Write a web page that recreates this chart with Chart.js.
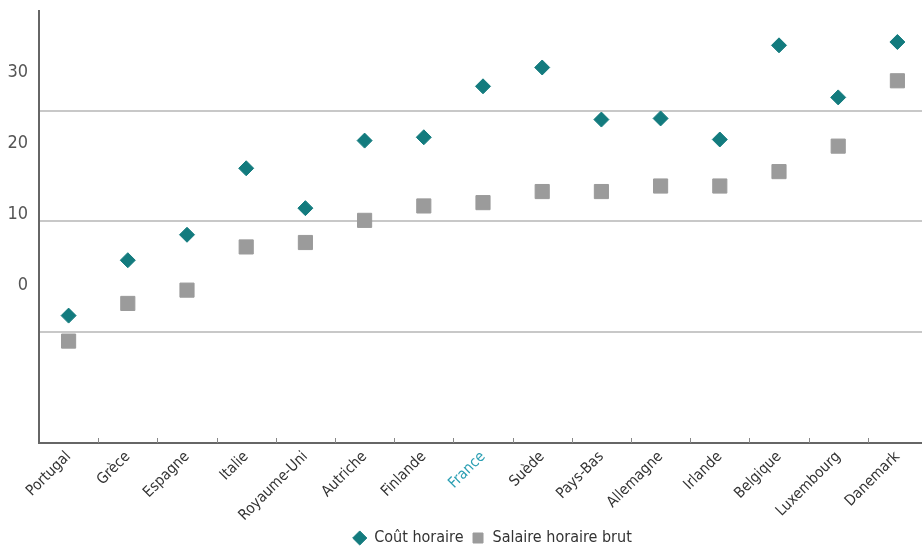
<!DOCTYPE html>
<html>
<head>
<meta charset="utf-8">
<script src="https://cdn.jsdelivr.net/npm/chart.js@4.4.1/dist/chart.umd.min.js"></script>
<style>
  html, body { margin: 0; padding: 0; background: #fff; overflow: hidden; }
  #wrap { position: relative; width: 985px; height: 556px; }
</style>
</head>
<body>
<div id="wrap"><canvas id="chart"></canvas></div>
<script>
  // donnees (euros par heure)
  const pays = ["Portugal", "Grèce", "Espagne", "Italie", "Royaume-Uni", "Autriche", "Finlande",
    "France", "Suède", "Pays-Bas", "Allemagne", "Irlande", "Belgique", "Luxembourg", "Danemark"];
  const coutHoraire = [11.5, 16.5, 18.8, 24.8, 21.2, 27.3, 27.6, 32.2, 33.9, 29.2, 29.3, 27.4, 35.9, 31.2, 36.2];
  const salaireBrut = [9.2, 12.6, 13.8, 17.7, 18.1, 20.1, 21.4, 21.7, 22.7, 22.7, 23.2, 23.2, 24.5, 26.8, 32.7];
  const etiquettesY = [0, 10, 20, 30];
  const lignesY = [10, 20, 30];

  const police = '"Liberation Sans Narrow", "DejaVu Sans Condensed", "Roboto Condensed", sans-serif';
  const teal = "#137b7e";
  const basGraphique = 443;

  // petits traits entre les categories, au-dessus de l'axe
  const petitsTraits = {
    id: "petitsTraits",
    beforeDatasetsDraw(chart) {
      const x = chart.scales.x;
      const bas = chart.chartArea.bottom;
      const ctx = chart.ctx;
      ctx.save();
      ctx.strokeStyle = "#888";
      ctx.lineWidth = 1;
      for (let i = 0; i < pays.length - 1; i++) {
        const px = Math.round((x.getPixelForValue(i) + x.getPixelForValue(i + 1)) / 2) + 0.5;
        ctx.beginPath();
        ctx.moveTo(px, bas - 5);
        ctx.lineTo(px, bas);
        ctx.stroke();
      }
      ctx.restore();
    }
  };

  new Chart(document.getElementById("chart"), {
    type: "line",
    data: {
      labels: pays,
      datasets: [
        {
          label: "Coût horaire",
          data: coutHoraire,
          showLine: false,
          pointStyle: "rectRot",
          pointRadius: 7.5,
          backgroundColor: teal,
          borderColor: teal,
          borderWidth: 1,
          yAxisID: "y"
        },
        {
          label: "Salaire horaire brut",
          data: salaireBrut,
          showLine: false,
          pointStyle: "rect",
          pointRadius: 10,
          backgroundColor: "#9b9b9b",
          borderColor: "#9b9b9b",
          borderWidth: 1,
          yAxisID: "y"
        }
      ]
    },
    options: {
      responsive: true,
      maintainAspectRatio: false,
      animation: false,
      events: [],
      layout: { padding: { top: 10, left: 0, right: 0, bottom: 0 } },
      plugins: {
        tooltip: { enabled: false },
        legend: {
          position: "bottom",
          labels: {
            usePointStyle: true,
            boxHeight: 10,
            boxWidth: 13,
            padding: 8,
            color: "#333",
            font: { family: police, size: 16 }
          }
        }
      },
      scales: {
        x: {
          offset: true,
          grid: { display: true, drawOnChartArea: false, drawTicks: false, offset: true },
          border: { display: true, color: "#666", width: 2 },
          ticks: {
            autoSkip: false,
            minRotation: 45,
            maxRotation: 45,
            padding: 5,
            color: (c) => pays[c.index] === "France" ? "#2b9fb3" : "#333",
            font: { family: police, size: 15 }
          },
          afterFit: (s) => {
            s.height = s.chart.height - s.chart.legend.height - basGraphique;
            s.paddingLeft = 0;
            s.paddingRight = 0;
          }
        },
        y: {
          position: "left",
          weight: 0,
          min: 0,
          max: 39,
          ticks: { display: false },
          grid: { color: "#c8c8c8", lineWidth: 2, drawTicks: false },
          border: { display: true, color: "#666", width: 2 },
          afterBuildTicks: (s) => { s.ticks = lignesY.map((v) => ({ value: v })); },
          afterFit: (s) => { s.width = 0; s.paddingTop = 0; s.paddingBottom = 0; }
        },
        etiquettes: {
          position: "left",
          weight: 1,
          min: -22.2,
          max: 38.6,
          grid: { display: false },
          border: { display: false },
          ticks: {
            padding: 3,
            color: "#555",
            font: { family: police, size: 18 }
          },
          afterBuildTicks: (s) => { s.ticks = etiquettesY.map((v) => ({ value: v })); },
          afterFit: (s) => { s.width = 39; s.paddingTop = 0; s.paddingBottom = 0; }
        },
        marge: {
          position: "right",
          grid: { display: false },
          border: { display: false },
          ticks: { display: false },
          afterFit: (s) => { s.width = 58; s.paddingTop = 0; s.paddingBottom = 0; }
        }
      }
    },
    plugins: [petitsTraits]
  });
</script>
</body>
</html>
